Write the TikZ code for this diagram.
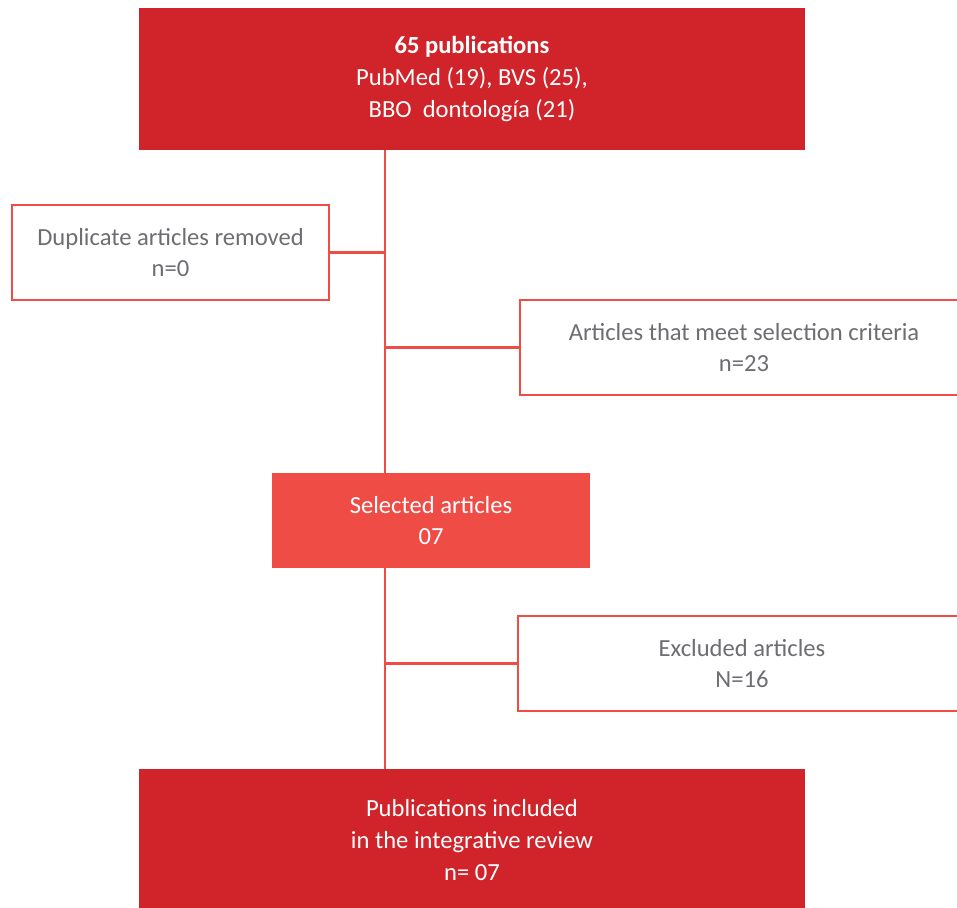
\documentclass[tikz,border=0pt]{standalone}
\usepackage{fontspec}
\setmainfont{Carlito}
\usepackage{xcolor}
\usetikzlibrary{positioning}
\definecolor{darkred}{HTML}{D0232A}
\definecolor{lightred}{HTML}{EF4C46}
\definecolor{textgray}{HTML}{6D6E72}
\tikzstyle{mainbox} = [rectangle, minimum width=13.32cm, minimum height=2.84cm, text centered, align=center, fill=darkred, text=white, font=\fontsize{14}{18}\selectfont]
\tikzstyle{selbox} = [rectangle, minimum width=6.36cm, minimum height=1.9cm, text centered, align=center, fill=lightred, text=white, font=\fontsize{14}{18}\selectfont]
\tikzstyle{sidebox} = [rectangle, minimum height=1.9cm, text centered, align=center, draw=lightred, line width=1.2pt, fill=white, text=textgray, font=\fontsize{14}{18}\selectfont]
\tikzstyle{link} = [draw=lightred, line width=1.4pt]

\begin{document}
\begin{tikzpicture}[x=0.02cm, y=-0.02cm]
        \useasboundingbox (0,0) rectangle (957,907);
        \clip (0,0) rectangle (957,907);
        \node[mainbox](start) at (472,79){\textbf{65 publications}\\PubMed (19), BVS (25),\\BBO\ \ dontología (21)};
        \node[sidebox,minimum width=6.34cm](dup) at (170.5,252.5){Duplicate articles removed\\n=0};
        \node[sidebox,minimum width=8.96cm](crit) at (744,347.5){Articles that meet selection criteria\\n=23};
        \node[selbox](sel) at (431,520.5){Selected articles\\07};
        \node[sidebox,minimum width=8.96cm](excl) at (742,663.5){Excluded articles\\N=16};
        \node[mainbox](incl) at (472,840){Publications included\\in the integrative review\\n= 07};
        \coordinate (spine) at (385,0);

        \draw [link] (start.south -| spine) -- (sel.north -| spine);
        \draw [link] (sel.south -| spine) -- (incl.north -| spine);
        \draw [link] (dup.east) -- (dup.east -| spine);
        \draw [link] (crit.west) -- (crit.west -| spine);
        \draw [link] (excl.west) -- (excl.west -| spine);
    \end{tikzpicture}
\end{document}
